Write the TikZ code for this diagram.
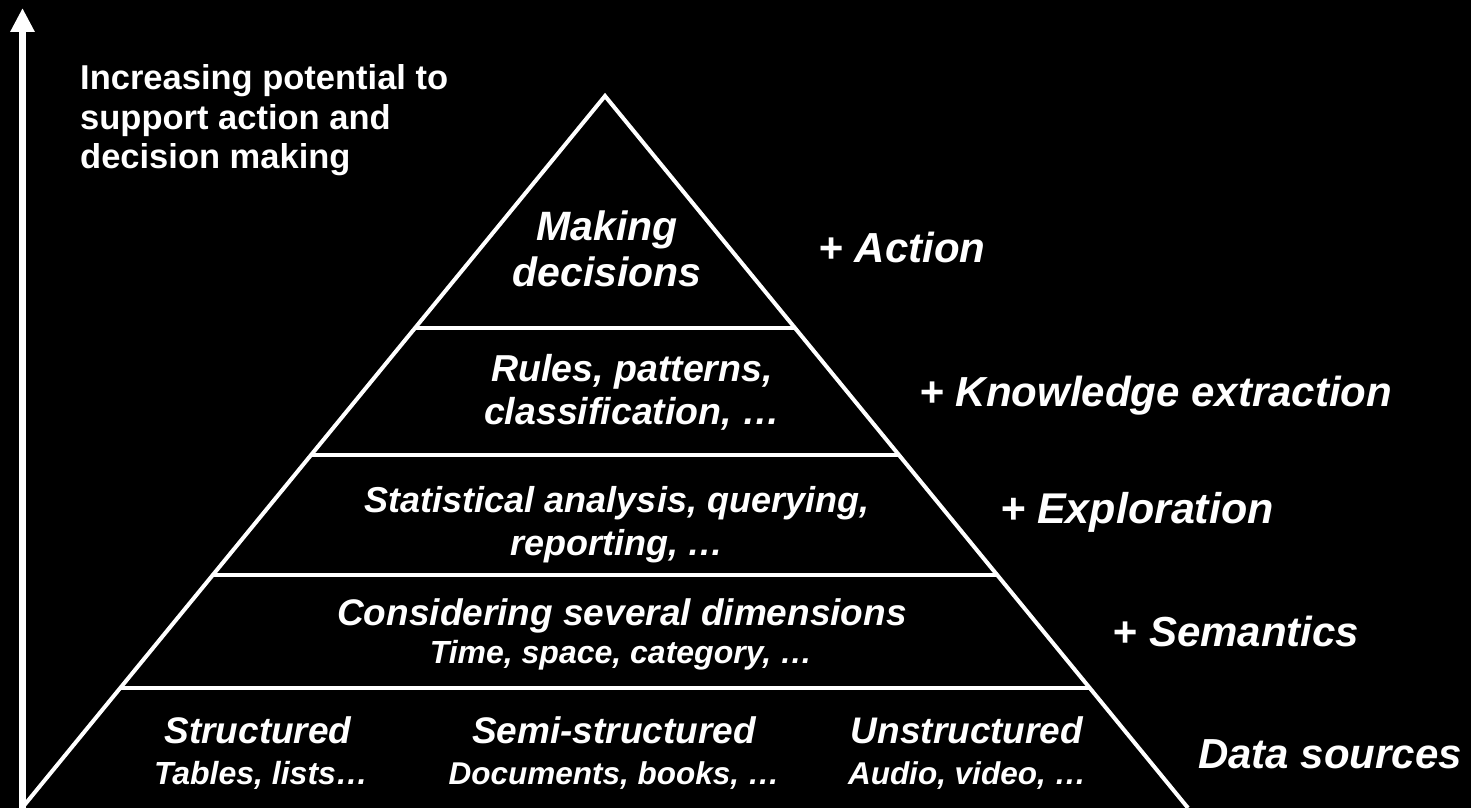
\documentclass[tikz,border=0pt]{standalone}
\usepackage{fontspec}
\setmainfont{Liberation Sans}
\usetikzlibrary{arrows.meta,calc}
\begin{document}
\begin{tikzpicture}[x=1pt,y=-1pt,
  lbl/.style={text=white,font=\bfseries\itshape\fontsize{#1}{#1}\selectfont,anchor=base,inner sep=0pt},
  lbl/.default=37,
  side/.style={lbl=42},
  plain/.style={text=white,font=\bfseries\fontsize{34.5}{34.5}\selectfont,anchor=base west,inner sep=0pt},
  edge/.style={draw=white,line width=4pt,line join=miter},
  axis/.style={draw=white,line width=6.5pt,-{Triangle[width=23pt,length=24pt]}}]
\fill[black] (0,0) rectangle (1471,808);
\useasboundingbox (0,0) rectangle (1471,808);
% pyramid
\coordinate (apex) at (605,96);
\coordinate (bl) at (22,808);
\coordinate (br) at (1188,808);
\draw[edge] (bl) -- (apex) -- (br);
\foreach \t/\n in {0.3258/a,0.5042/b,0.6728/c,0.8315/d}{
  \coordinate (l\n) at ($(apex)!\t!(bl)$);
  \coordinate (r\n) at ($(apex)!\t!(br)$);
  \draw[edge] (l\n) -- (r\n);
}
% axis
\coordinate (axbot) at (22.5,808);
\coordinate (axtop) at (22.5,8);
\draw[axis] (axbot) -- (axtop);
% left text
\node[plain] (p1) at (80,89) {Increasing potential to};
\node[plain] (p2) at (80,129) {support action and};
\node[plain] (p3) at (80,168) {decision making};
% levels
\node[lbl=41] (m1) at (607,240) {Making};
\node[lbl=41] (m2) at (607,286) {decisions};
\node[side] (s1) at (902,262) {+ Action};
\node[lbl=37.5] (r1) at (632,381) {Rules, patterns,};
\node[lbl=37.5] (r2) at (632,424) {classification, …};
\node[side] (s2) at (1156,406) {+ Knowledge extraction};
\node[lbl=36] (q1) at (617,512) {Statistical analysis, querying,};
\node[lbl=36] (q2) at (617,555) {reporting, …};
\node[lbl=43] (s3) at (1137,523) {+ Exploration};
\node[lbl] (c1) at (622,625) {Considering several dimensions};
\node[lbl=32] (c2) at (621,663) {Time, space, category, …};
\node[side] (s4) at (1236,646) {+ Semantics};
\node[lbl] (d1) at (258,743) {Structured};
\node[lbl=32] (d2) at (261,784) {Tables, lists…};
\node[lbl] (d3) at (614,743) {Semi-structured};
\node[lbl=31.5] (d4) at (614,784) {Documents, books, …};
\node[lbl] (d5) at (967,743) {Unstructured};
\node[lbl=31.5] (d6) at (967,784) {Audio, video, …};
\node[side] (s5) at (1330,768) {Data sources};
\end{tikzpicture}
\end{document}
